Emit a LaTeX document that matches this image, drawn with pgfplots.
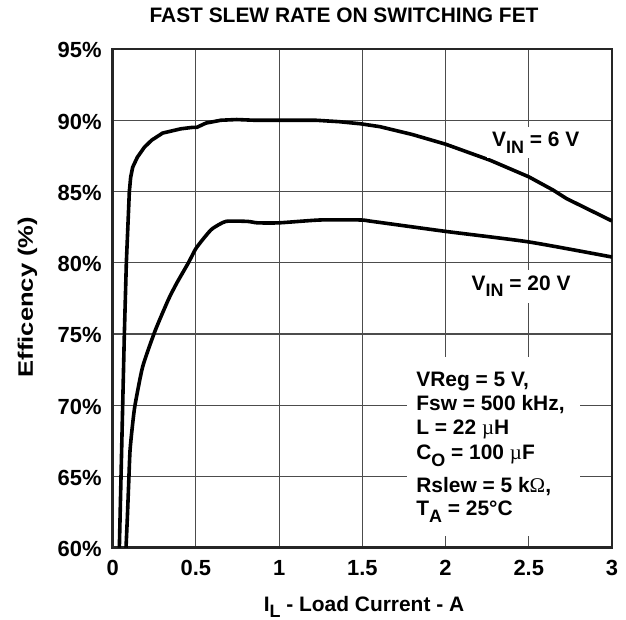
\documentclass[border=0pt]{standalone}
\usepackage{fontspec}
\setmainfont{Liberation Sans}
\newfontfamily\symfont{Liberation Serif}
\usepackage{pgfplots}
\pgfplotsset{compat=1.18}
\usepackage{graphicx}
\newcommand\sub[1]{\raisebox{-3.2bp}{\fontsize{9}{9}\selectfont #1}}
\newcommand\mufont{{\symfont\mdseries µ}}
\begin{document}
\begin{tikzpicture}[font=\bfseries\fontsize{10.5}{12.6}\selectfont]
\begin{axis}[
  at={(0,0)}, anchor=south west,
  width=249.65bp, height=249.35bp, scale only axis,
  xmin=0, xmax=3, ymin=60, ymax=95,
  xtick={0,0.5,1,1.5,2,2.5,3},
  ytick={60,65,70,75,80,85,90,95},
  yticklabel={\pgfmathprintnumber{\tick}\%},
  /pgf/number format/assume math mode=true,
  tick label style={font=\bfseries\fontsize{11}{13}\selectfont, inner sep=0pt},
  xticklabel style={anchor=base, yshift=-13.9bp},
  yticklabel style={anchor=base east, xshift=-5.35bp, yshift=-4.4bp},
  major tick length=0pt,
  grid=major,
  grid style={black!70, line width=0.55bp},
  axis line style={black!85, line width=1.35bp},
]
\addplot[black, line width=1.8bp] coordinates {
(0.040,60) (0.050,65) (0.060,70) (0.070,75) (0.082,80) (0.100,85) (0.108,86.0)
(0.120,86.7) (0.148,87.4) (0.190,88.1) (0.234,88.6) (0.300,89.1) (0.410,89.4)
(0.480,89.5) (0.505,89.5) (0.560,89.8) (0.650,90.0) (0.745,90.05) (0.850,90.0)
(1.000,90.0) (1.220,90.0) (1.360,89.9) (1.490,89.75) (1.605,89.55) (1.800,89.0)
(2.000,88.32) (2.266,87.2) (2.500,86.03) (2.646,85.1) (2.727,84.5) (3.000,82.93)
};
\addplot[black, line width=1.8bp, smooth, tension=0.35] coordinates {
(0.080,60) (0.088,62.1) (0.096,64.5) (0.104,66.8) (0.118,68.5) (0.134,70) (0.180,72.7)
(0.254,75.2) (0.334,77.4) (0.384,78.55) (0.455,80) (0.500,81.0) (0.560,81.9) (0.600,82.4)
(0.680,82.9) (0.810,82.9) (0.870,82.8) (1.000,82.8) (1.245,83.0) (1.490,83.0) (1.560,82.9)
(2.000,82.2) (2.500,81.46) (3.000,80.4)
};
\node[anchor=base, fill=white, inner sep=2.5bp] at (axis cs:2.542,88.13) {V\sub{IN} = 6 V};
\node[anchor=base, fill=white, inner sep=3bp] at (axis cs:2.454,78.06) {V\sub{IN} = 20 V};
\fill[white] (axis cs:1.77,60.85) rectangle (axis cs:2.81,73.38);
\node[anchor=base west, inner sep=0pt] at (axis cs:1.822,71.32) {VReg = 5 V,};
\node[anchor=base west, inner sep=0pt] at (axis cs:1.822,69.63) {Fsw = 500 kHz,};
\node[anchor=base west, inner sep=0pt] at (axis cs:1.822,67.94) {L = 22 \mufont H};
\node[anchor=base west, inner sep=0pt] at (axis cs:1.822,66.17) {C\sub{O} = 100 \mufont F};
\node[anchor=base west, inner sep=0pt] at (axis cs:1.822,63.89) {Rslew = 5 k{\symfont\mdseries Ω},};
\node[anchor=base west, inner sep=0pt] at (axis cs:1.822,62.25) {T\sub{A} = 25°C};
\end{axis}
\node[anchor=base, inner sep=0pt] at (115.65bp,262.5bp) {FAST SLEW RATE ON SWITCHING FET};
\node[anchor=base, inner sep=0pt] at (125.65bp,-31.65bp) {I\sub{L} - Load Current - A};
\node[anchor=base, inner sep=0pt, rotate=90] at (-39.85bp,125.35bp) {\scalebox{1.22}[1]{Efficency (\%)}};
\pgfresetboundingbox
\path[use as bounding box] (-56.35bp,-36.15bp) rectangle (256.65bp,273.85bp);
\end{tikzpicture}
\end{document}
